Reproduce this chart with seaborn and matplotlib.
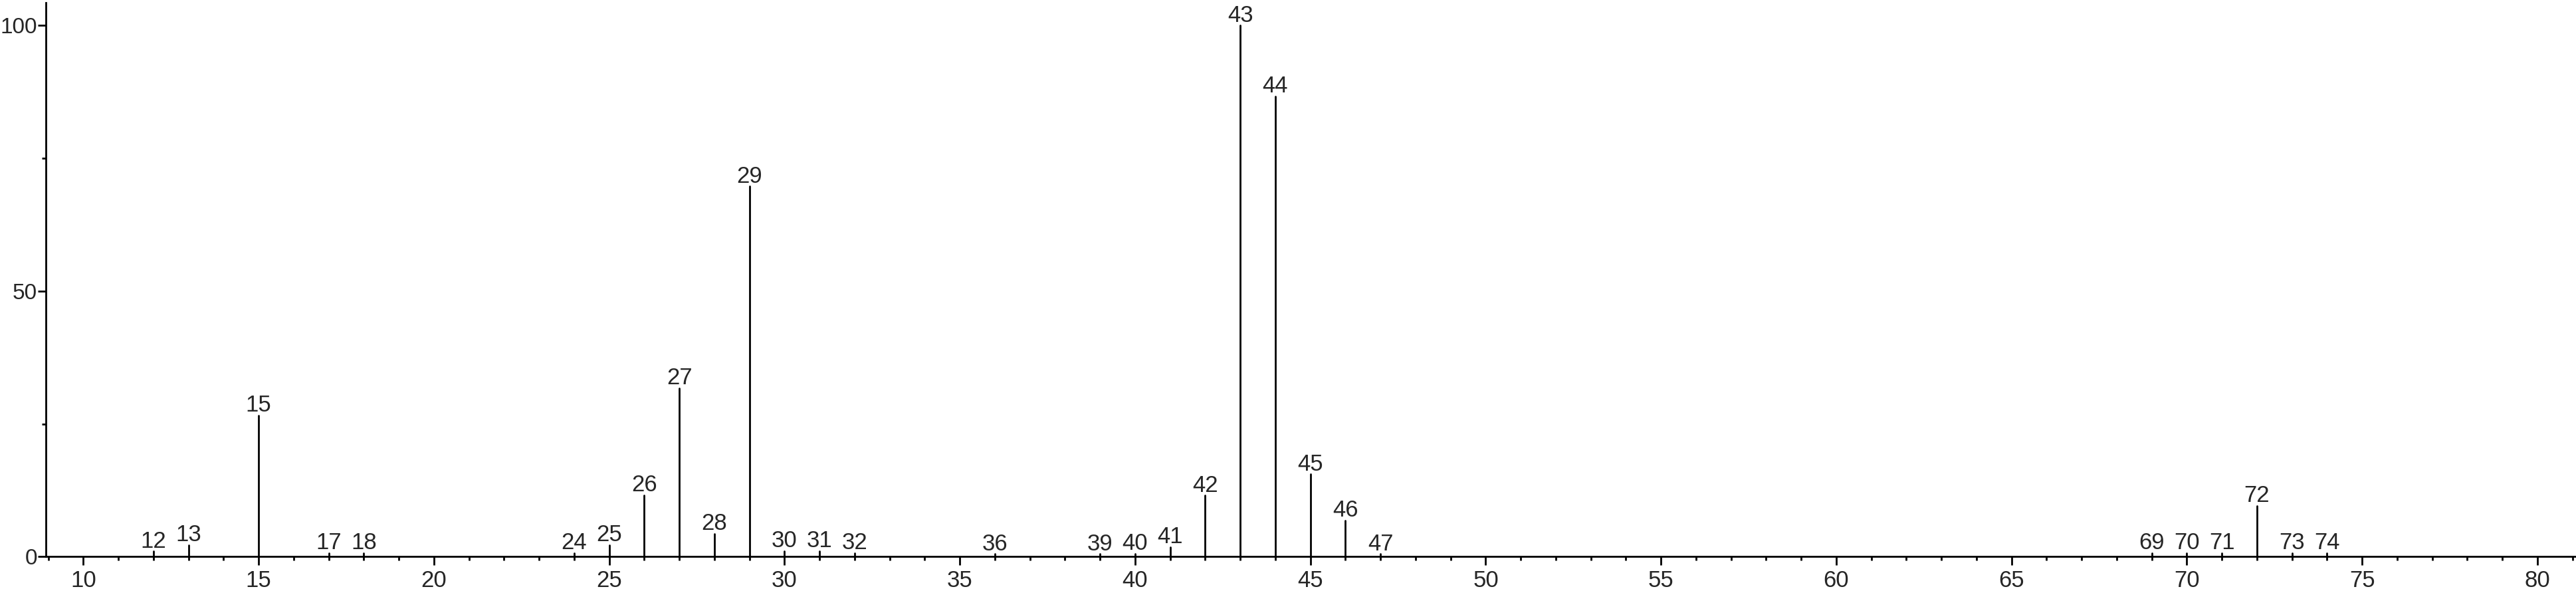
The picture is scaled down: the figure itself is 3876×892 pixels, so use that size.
import seaborn as sns
import matplotlib.pyplot as plt
import pandas as pd
from matplotlib.ticker import MultipleLocator

# picos do espectro de massa (m/z e intensidade relativa)
mz = [12, 13, 15, 17, 18, 24, 25, 26, 27, 28, 29, 30, 31, 32, 36,
      39, 40, 41, 42, 43, 44, 45, 46, 47, 69, 70, 71, 72, 73, 74]
intensidade = [1.0, 2.2, 26.6, 0.7, 0.7, 0.7, 2.2, 11.6, 31.7, 4.3, 69.7, 1.1, 1.1, 0.7, 0.5,
               0.5, 0.6, 1.8, 11.5, 100.0, 86.7, 15.5, 6.8, 0.5, 0.7, 0.7, 0.7, 9.6, 0.7, 0.7]
rotulos = [str(m) for m in mz]

sns.set_style('ticks')
plt.rcParams['font.family'] = ['Liberation Sans', 'DejaVu Sans']

# cada pico vira um segmento vertical (0 -> intensidade)
df = pd.DataFrame({
    'mz': mz + mz,
    'y': [0.0] * len(mz) + intensidade,
})

fig = plt.figure(figsize=(38.76, 8.92), dpi=100)
ax = fig.add_axes([0.0178, 0.0613, 0.9822, 0.9342])

sns.lineplot(data=df, x='mz', y='y', units='mz', estimator=None,
             color='black', lw=2.0, ax=ax, legend=False)

# rotulo de cada pico logo acima da linha
for m, h, t in zip(mz, intensidade, rotulos):
    ax.annotate(t, (m, h), xytext=(0, -1), textcoords='offset points',
                ha='center', va='bottom', fontsize=25)

ax.set_xlim(8.93, 81.1)
ax.set_ylim(0, 104.3)
ax.xaxis.set_major_locator(MultipleLocator(5))
ax.xaxis.set_minor_locator(MultipleLocator(1))
ax.yaxis.set_major_locator(MultipleLocator(50))
ax.yaxis.set_minor_locator(MultipleLocator(25))
ax.tick_params(axis='both', which='major', length=9, width=2, labelsize=25, color='black')
ax.tick_params(axis='both', which='minor', length=4, width=2, color='black')
ax.tick_params(axis='x', which='major', pad=5)
ax.tick_params(axis='y', which='major', pad=0.5, labelsize=24)
ax.set_xlabel('')
ax.set_ylabel('')

for s in ['top', 'right']:
    ax.spines[s].set_visible(False)
for s in ['left', 'bottom']:
    ax.spines[s].set_linewidth(2)
    ax.spines[s].set_color('black')

fig.savefig('out.png', dpi=100)
